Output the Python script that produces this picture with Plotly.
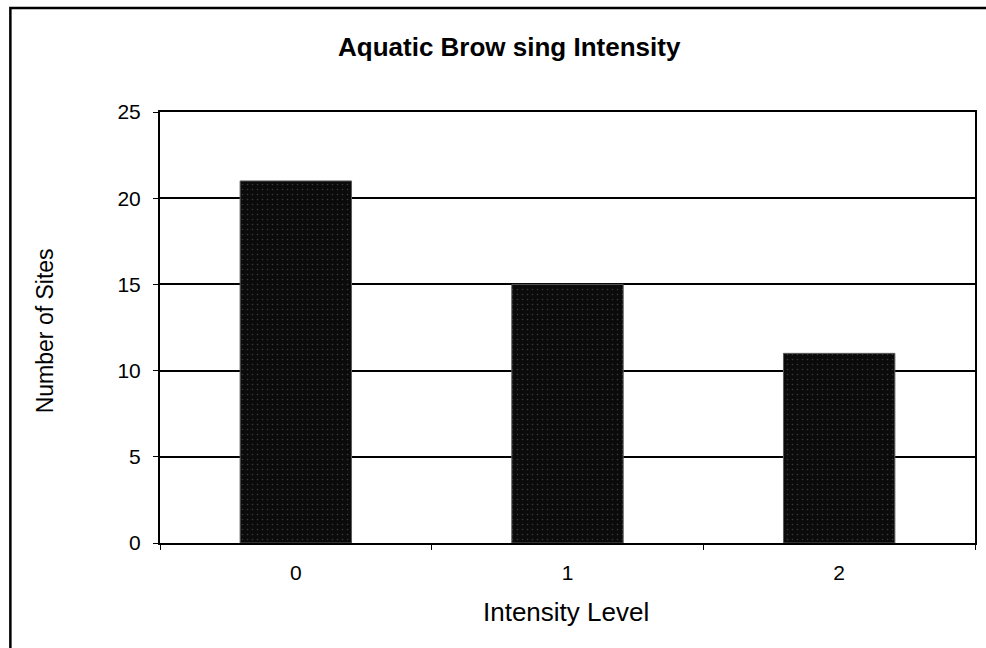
import plotly.graph_objects as go

# Chart data
intensity_levels = ["0", "1", "2"]
site_counts = [21, 15, 11]
y_tick_values = [0, 5, 10, 15, 20, 25]

FONT = "Liberation Sans, Arial, sans-serif"

W, H = 986, 648
L, R, T, B = 160, 9, 112, 105
plot_w = W - L - R
plot_h = H - T - B


def px_x(x):
    return (x - L) / plot_w


def px_y(y):
    return (H - B - y) / plot_h


fig = go.Figure(
    go.Bar(
        x=intensity_levels,
        y=site_counts,
        marker=dict(
            color="#0b0b0b",
            line=dict(color="#5a5a5a", width=1),
            pattern=dict(shape=".", fgcolor="#6a6a6a", bgcolor="#0b0b0b",
                         size=5, solidity=0.08),
        ),
        showlegend=False,
    )
)

fig.update_layout(
    width=W,
    height=H,
    margin=dict(l=L, r=R, t=T, b=B),
    paper_bgcolor="white",
    plot_bgcolor="white",
    bargap=0.59,
    font=dict(family=FONT, color="black", size=21),
    xaxis=dict(
        type="category",
        showline=True,
        linecolor="black",
        linewidth=2,
        mirror=True,
        ticks="outside",
        ticklen=5,
        tickcolor="black",
        tickwidth=1,
        tickson="boundaries",
        showgrid=False,
        tickfont=dict(size=21),
        ticklabelstandoff=10,
    ),
    yaxis=dict(
        range=[0, 25],
        tickvals=y_tick_values,
        showline=True,
        linecolor="black",
        linewidth=2,
        mirror=True,
        ticks="outside",
        ticklen=5,
        tickcolor="black",
        tickwidth=1,
        showgrid=True,
        gridcolor="black",
        gridwidth=2,
        zeroline=False,
        tickfont=dict(size=21),
        ticklabelstandoff=8,
    ),
    annotations=[
        dict(text="<b>Aquatic Brow sing Intensity</b>", x=px_x(510), y=px_y(47),
             xref="paper", yref="paper", xanchor="center", yanchor="middle",
             showarrow=False, font=dict(size=26, family=FONT)),
        dict(text="Intensity Level", x=px_x(567), y=px_y(612),
             xref="paper", yref="paper", xanchor="center", yanchor="middle",
             showarrow=False, font=dict(size=26, family=FONT)),
        dict(text="Number of Sites", x=px_x(45), y=px_y(331),
             xref="paper", yref="paper", xanchor="center", yanchor="middle",
             showarrow=False, textangle=-90,
             font=dict(size=23, family=FONT)),
    ],
    shapes=[
        dict(type="rect", xref="paper", yref="paper",
             x0=px_x(10), x1=px_x(1020), y0=px_y(700), y1=px_y(8),
             line=dict(color="black", width=2.5), fillcolor="rgba(0,0,0,0)",
             layer="above"),
    ],
)

fig.write_html("out.html")
